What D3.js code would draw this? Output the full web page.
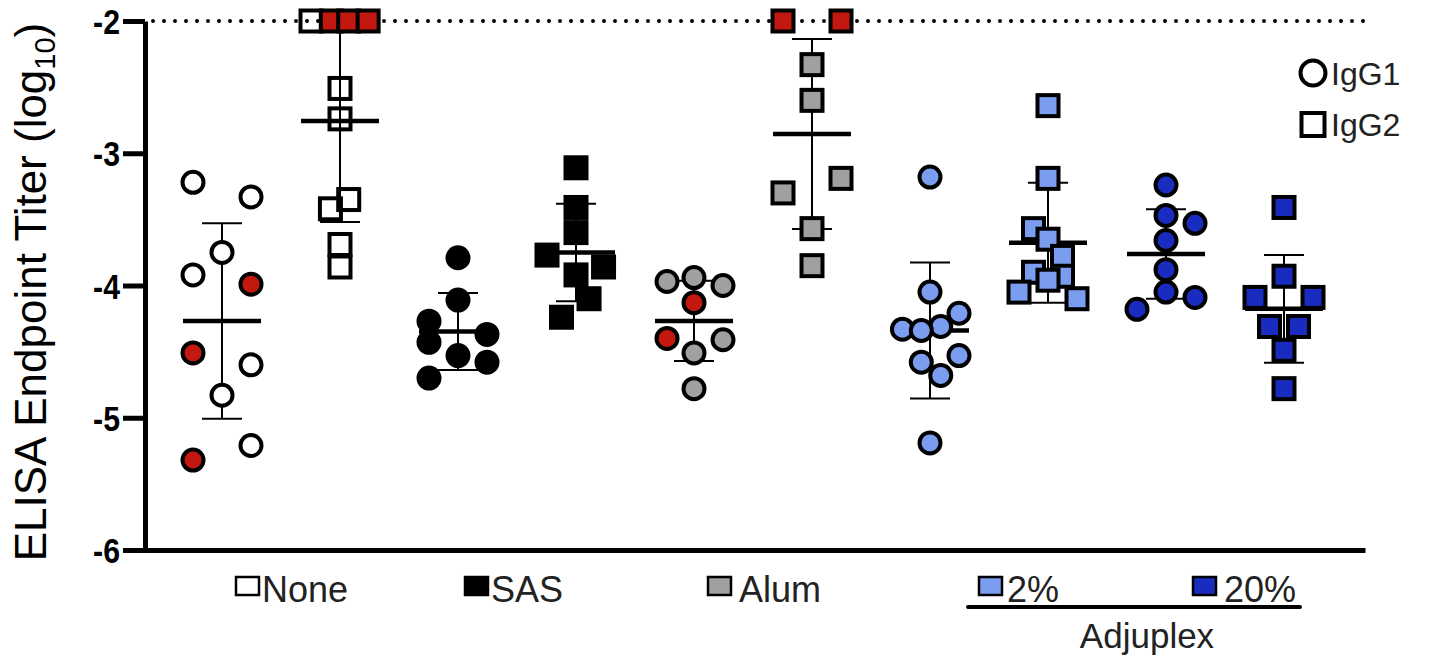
<!DOCTYPE html>
<html><head><meta charset="utf-8">
<script src="https://cdn.jsdelivr.net/npm/d3@7"></script>
<style>
body{margin:0;background:#fff;}
text{font-family:"Liberation Sans",Arial,Helvetica,sans-serif;}
</style>
</head><body>
<script>
// ---------------- DATA ----------------
const groups = ["None", "SAS", "Alum", "2%", "20%"];
const isotypes = ["IgG1", "IgG2"];
const yTicks = [-2, -3, -4, -5, -6];
const detectionLimit = -2;
const subgroupLabel = "Adjuplex";

// values (log10 endpoint titer); *Col = swarm column (-1..1); *Red = highlighted animal
const noneIgG1    = [-3.22, -3.33, -3.75, -3.92, -3.99, -4.51, -4.60, -4.83, -5.21, -5.32];
const noneIgG1Col = [-1, 1, 0, -1, 1, -1, 1, 0, 1, -1];
const noneIgG1Red = [0, 0, 0, 0, 1, 1, 0, 0, 0, 1];

const noneIgG2    = [-2, -2, -2, -2, -2.51, -2.74, -3.35, -3.42, -3.69, -3.86];
const noneIgG2Col = [-1, -0.3, 0.3, 0.97, 0, 0, 0.3, -0.33, 0, 0];
const noneIgG2Red = [0, 1, 1, 1, 0, 0, 0, 0, 0, 0];

const sasIgG1    = [-3.79, -4.11, -4.27, -4.37, -4.43, -4.53, -4.58, -4.70];
const sasIgG1Col = [0, 0, -1, 1, -1, 0, 1, -1];

const sasIgG2    = [-3.11, -3.41, -3.60, -3.77, -3.86, -3.92, -4.10, -4.24];
const sasIgG2Col = [0, 0, 0, -1, 0.95, 0, 0.45, -0.5];

const alumIgG1    = [-3.94, -3.97, -4.00, -4.13, -4.40, -4.41, -4.51, -4.78];
const alumIgG1Col = [0, -0.93, 1, 0, -0.93, 1, 0, 0];
const alumIgG1Red = [0, 0, 0, 1, 1, 0, 0, 0];

const alumIgG2    = [-2, -2, -2.33, -2.60, -3.19, -3.30, -3.57, -3.85];
const alumIgG2Col = [-1, 1, 0, 0, 1, -1, 0, 0];
const alumIgG2Red = [1, 1, 0, 0, 0, 0, 0, 0];

const adj2IgG1    = [-3.18, -4.05, -4.21, -4.31, -4.33, -4.34, -4.53, -4.58, -4.68, -5.19];
const adj2IgG1Col = [0, 0, 1, 0.37, -0.95, -0.3, 1, -0.3, 0.37, 0];

const adj2IgG2    = [-2.64, -3.19, -3.57, -3.65, -3.78, -3.90, -3.93, -3.96, -4.05, -4.10];
const adj2IgG2Col = [0, 0, -0.5, 0, 0.5, -0.5, 0.5, 0, -1, 1];

const adj20IgG1    = [-3.24, -3.47, -3.53, -3.66, -3.88, -4.05, -4.09, -4.18];
const adj20IgG1Col = [0, 0, 1, 0, 0, 0, 1, -1];

const adj20IgG2    = [-3.41, -3.93, -4.09, -4.09, -4.31, -4.31, -4.49, -4.78];
const adj20IgG2Col = [0, 0, -1, 1, -0.5, 0.5, 0, 0];

// ---------------- STYLE / LAYOUT ----------------
const groupFill = {"None": "#ffffff", "SAS": "#000000", "Alum": "#a0a0a0", "2%": "#7a9df0", "20%": "#1a2cc0"};
const redFill = "#c3180f";
const W = 1442, H = 661;
const legendBoxOffset = {"None": -45, "SAS": -52, "Alum": -45, "2%": -10, "20%": -32};
const legendGap = {"None": 2, "SAS": 2, "Alum": 7, "2%": 4, "20%": 7};
const tickCondense = 0.84;

const series = [
  {group: "None", iso: "IgG1", values: noneIgG1, cols: noneIgG1Col, red: noneIgG1Red},
  {group: "None", iso: "IgG2", values: noneIgG2, cols: noneIgG2Col, red: noneIgG2Red},
  {group: "SAS",  iso: "IgG1", values: sasIgG1,  cols: sasIgG1Col},
  {group: "SAS",  iso: "IgG2", values: sasIgG2,  cols: sasIgG2Col},
  {group: "Alum", iso: "IgG1", values: alumIgG1, cols: alumIgG1Col, red: alumIgG1Red},
  {group: "Alum", iso: "IgG2", values: alumIgG2, cols: alumIgG2Col, red: alumIgG2Red},
  {group: "2%",   iso: "IgG1", values: adj2IgG1, cols: adj2IgG1Col},
  {group: "2%",   iso: "IgG2", values: adj2IgG2, cols: adj2IgG2Col},
  {group: "20%",  iso: "IgG1", values: adj20IgG1, cols: adj20IgG1Col},
  {group: "20%",  iso: "IgG2", values: adj20IgG2, cols: adj20IgG2Col}
];
series.forEach(s => {
  s.key = s.group + "|" + s.iso;
  s.mean = d3.mean(s.values);
  s.sd = d3.deviation(s.values);
});

const svg = d3.select("body").append("svg").attr("width", W).attr("height", H);

const y = d3.scaleLinear().domain([-6, -2]).range([550, 21]);
const xCol = d3.scalePoint().domain(series.map(s => s.key)).range([222, 1284]);
const spread = d3.scaleLinear().domain([-1, 1]).range([-29, 29]);
const xLine = d3.scaleLinear().domain([0, 1]).range([143, 1365]);

// detection limit dotted line
svg.append("line")
  .attr("x1", xLine(0) + 10).attr("x2", xLine(1))
  .attr("y1", y(detectionLimit)).attr("y2", y(detectionLimit))
  .attr("stroke", "#000").attr("stroke-width", 4)
  .attr("stroke-linecap", "round").attr("stroke-dasharray", "0,11");

// axes
const tickSize = 22, tickPad = 3;
const yAxis = svg.append("g").attr("transform", "translate(145,0)")
  .call(d3.axisLeft(y).tickValues(yTicks).tickSize(tickSize).tickSizeOuter(0).tickPadding(tickPad).tickFormat(d => String(d)));
yAxis.select(".domain").attr("stroke-width", 5);
yAxis.selectAll(".tick line").attr("stroke-width", 5);
yAxis.selectAll(".tick text")
  .attr("font-size", 36).attr("font-weight", "bold").attr("fill", "#000")
  .attr("x", -(tickSize + tickPad) / tickCondense)
  .attr("transform", `scale(${tickCondense},1)`)
  .attr("dy", "0.35em")
  .style("font-family", "'Liberation Sans', Arial, sans-serif");

const xAxis = svg.append("g").attr("transform", "translate(0,550)")
  .call(d3.axisBottom(xLine).tickValues([]).tickSizeOuter(0));
xAxis.select(".domain").attr("stroke-width", 5);

// y title
const yt = svg.append("text")
  .attr("transform", "rotate(-90)")
  .attr("x", -292).attr("y", 46)
  .attr("text-anchor", "middle")
  .attr("font-size", 44).attr("fill", "#000");
yt.append("tspan").text("ELISA Endpoint Titer (log");
yt.append("tspan").attr("font-size", 29).attr("dy", 9).text("10");
yt.append("tspan").attr("dy", -9).text(")");

// error bars (mean ± SD)
const eb = svg.append("g").selectAll("g").data(series).join("g")
  .attr("transform", s => `translate(${xCol(s.key)},0)`);
eb.append("line").attr("x1", 0).attr("x2", 0)
  .attr("y1", s => y(s.mean + s.sd)).attr("y2", s => y(s.mean - s.sd))
  .attr("stroke", "#000").attr("stroke-width", 2);
eb.append("line").attr("x1", -20).attr("x2", 20)
  .attr("y1", s => y(s.mean + s.sd)).attr("y2", s => y(s.mean + s.sd))
  .attr("stroke", "#000").attr("stroke-width", 2);
eb.append("line").attr("x1", -20).attr("x2", 20)
  .attr("y1", s => y(s.mean - s.sd)).attr("y2", s => y(s.mean - s.sd))
  .attr("stroke", "#000").attr("stroke-width", 2);
eb.append("line").attr("x1", -39).attr("x2", 39)
  .attr("y1", s => y(s.mean)).attr("y2", s => y(s.mean))
  .attr("stroke", "#000").attr("stroke-width", 4.5);

// points
const pts = [];
series.forEach(s => s.values.forEach((v, i) => pts.push({
  s, v, col: s.cols[i], red: s.red ? s.red[i] : 0
})));
const mg = svg.append("g");
const fillOf = p => p.red ? redFill : (p.s.iso === "IgG2" && p.s.group === "None" ? "none" : groupFill[p.s.group]);
mg.selectAll("circle").data(pts.filter(p => p.s.iso === "IgG1")).join("circle")
  .attr("cx", p => xCol(p.s.key) + spread(p.col))
  .attr("cy", p => y(p.v))
  .attr("r", 10.5)
  .attr("fill", fillOf).attr("stroke", "#000").attr("stroke-width", 4);
const sq = 21;
mg.selectAll("rect").data(pts.filter(p => p.s.iso === "IgG2")).join("rect")
  .attr("x", p => xCol(p.s.key) + spread(p.col) - sq / 2)
  .attr("y", p => y(p.v) - sq / 2)
  .attr("width", sq).attr("height", sq)
  .attr("fill", fillOf).attr("stroke", "#000").attr("stroke-width", 4);

// isotype legend (top right)
const lg = svg.append("g").attr("transform", "translate(1313,0)");
lg.append("circle").attr("cx", 0).attr("cy", 73).attr("r", 12.5)
  .attr("fill", "#fff").attr("stroke", "#000").attr("stroke-width", 4);
lg.append("rect").attr("x", -11.5).attr("y", 113).attr("width", 23).attr("height", 23)
  .attr("fill", "#fff").attr("stroke", "#000").attr("stroke-width", 4);
lg.selectAll("text").data(isotypes).join("text")
  .attr("x", 18).attr("y", (d, i) => 85 + i * 51)
  .attr("font-size", 32).attr("fill", "#222").text(d => d);

// group legend (bottom)
const gl = svg.append("g").selectAll("g").data(groups).join("g")
  .attr("transform", g => {
    const c = (xCol(g + "|IgG1") + xCol(g + "|IgG2")) / 2;
    return `translate(${c + legendBoxOffset[g]},0)`;
  });
gl.append("rect").attr("x", 0).attr("y", 577).attr("width", 23).attr("height", 18)
  .attr("fill", g => groupFill[g]).attr("stroke", "#000").attr("stroke-width", 2.5);
gl.append("text").attr("x", g => 24 + legendGap[g]).attr("y", 602)
  .attr("font-size", 36).attr("fill", "#222").text(g => g);

// Adjuplex bracket
const bx0 = 968, bx1 = 1300;
svg.append("line").attr("x1", bx0).attr("x2", bx1).attr("y1", 607).attr("y2", 607)
  .attr("stroke", "#000").attr("stroke-width", 4).attr("stroke-linecap", "round");
svg.append("text").attr("x", (bx0 + bx1) / 2 + 13).attr("y", 648).attr("text-anchor", "middle")
  .attr("font-size", 35).attr("fill", "#222").text(subgroupLabel);
</script>
</body></html>
